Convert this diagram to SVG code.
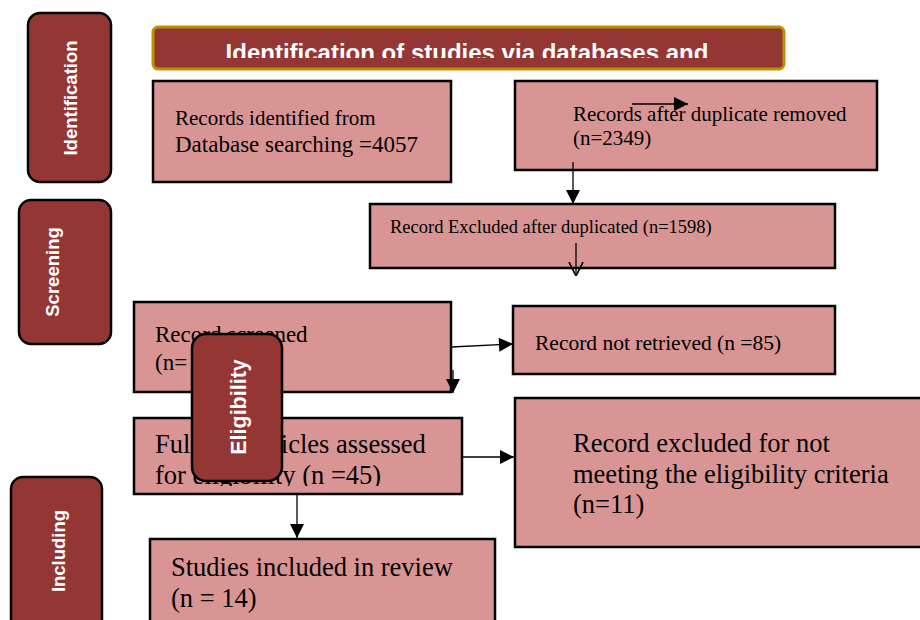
<svg xmlns="http://www.w3.org/2000/svg" width="920" height="620" viewBox="0 0 920 620">
<defs>
<style>
.box{fill:#D99594;stroke:#000;stroke-width:2.5}
.pill{fill:#943634;stroke:#000;stroke-width:2.5}
.t{font-family:"Liberation Serif","Times New Roman",serif;fill:#000}
.pt{font-family:"Liberation Sans",Arial,sans-serif;font-weight:bold;fill:#fff;font-size:18.5px}
.ln{stroke:#000;stroke-width:1.3;fill:none}
</style>
<marker id="ahb" viewBox="0 0 10 10" refX="10" refY="5" markerWidth="16" markerHeight="14" markerUnits="userSpaceOnUse" orient="auto"><path d="M0,0 L10,5 L0,10 z" fill="#000"/></marker>
<marker id="ao" viewBox="0 0 10 10" refX="10" refY="5" markerWidth="14" markerHeight="22" markerUnits="userSpaceOnUse" orient="auto"><path d="M0,0 L10,5 L0,10" fill="none" stroke="#000" stroke-width="1.2"/></marker>
<clipPath id="clipTitle"><rect x="150" y="20" width="640" height="38"/></clipPath>
<clipPath id="clipFull"><rect x="130" y="410" width="340" height="76"/></clipPath>
</defs>

<g id="title">
<rect x="153" y="27" width="631" height="42" rx="5" fill="#943634" stroke="#C09000" stroke-width="3"/>
<text x="467" y="61" text-anchor="middle" font-family="Liberation Sans,Arial,sans-serif" font-weight="bold" font-size="24" fill="#fff" clip-path="url(#clipTitle)">Identification of studies via databases and</text>
</g>

<g id="identified">
<rect class="box" x="153" y="81" width="298" height="101"/>
<text class="t" x="175" y="125" font-size="21">Records identified from</text>
<text class="t" x="175" y="152" font-size="23">Database searching =4057</text>
</g>

<g id="after-duplicates">
<rect class="box" x="515" y="81" width="362" height="89"/>
<text class="t" x="573" y="121" font-size="21">Records after duplicate removed</text>
<text class="t" x="573" y="145" font-size="21">(n=2349)</text>
</g>

<g id="excluded-duplicates">
<rect class="box" x="370" y="204" width="465" height="64"/>
<text class="t" x="390" y="233" font-size="18.5">Record Excluded after duplicated (n=1598)</text>
</g>

<g id="screened">
<rect class="box" x="134" y="302" width="317" height="90"/>
<text class="t" x="155" y="342" font-size="23">Record screened</text>
<text class="t" x="155" y="370" font-size="23">(n=</text>
</g>

<g id="not-retrieved">
<rect class="box" x="513" y="306" width="322" height="68"/>
<text class="t" x="535" y="350" font-size="21.5">Record not retrieved (n =85)</text>
</g>

<g id="full-text">
<rect class="box" x="134" y="418" width="328" height="76"/>
<g clip-path="url(#clipFull)">
<text class="t" x="155" y="453" font-size="26.5">Full-text articles assessed</text>
<text class="t" x="155" y="484" font-size="26.5">for eligibility (n =45)</text>
</g>
</g>

<g id="excluded-eligibility">
<rect class="box" x="515" y="398" width="410" height="149"/>
<text class="t" x="573" y="452" font-size="26.5">Record excluded for not</text>
<text class="t" x="573" y="483" font-size="26.5">meeting the eligibility criteria</text>
<text class="t" x="573" y="513" font-size="26.5">(n=11)</text>
</g>

<g id="included">
<rect class="box" x="150" y="539" width="345" height="90"/>
<text class="t" x="171" y="576" font-size="26.5">Studies included in review</text>
<text class="t" x="171" y="607" font-size="26.5">(n = 14)</text>
</g>

<g id="connectors">
<line class="ln" x1="632" y1="104" x2="688" y2="104" marker-end="url(#ahb)"/>
<line class="ln" x1="573" y1="162" x2="573" y2="204" marker-end="url(#ahb)"/>
<line class="ln" x1="576" y1="243" x2="576" y2="276" marker-end="url(#ao)"/>
<line class="ln" x1="451" y1="347" x2="513" y2="344" marker-end="url(#ahb)"/>
<line class="ln" x1="453" y1="370" x2="453" y2="393" marker-end="url(#ahb)"/>
<line class="ln" x1="462" y1="457" x2="514" y2="457" marker-end="url(#ahb)"/>
<line class="ln" x1="297" y1="494" x2="297" y2="538" marker-end="url(#ahb)"/>
</g>

<g id="stage-identification">
<rect class="pill" x="28" y="13" width="83" height="169" rx="12"/>
<text class="pt" transform="translate(77,98) rotate(-90)" text-anchor="middle">Identification</text>
</g>
<g id="stage-screening">
<rect class="pill" x="19" y="200" width="92" height="144" rx="12"/>
<text class="pt" transform="translate(59,272) rotate(-90)" text-anchor="middle">Screening</text>
</g>
<g id="stage-eligibility">
<rect class="pill" x="192" y="334" width="90" height="147" rx="14"/>
<text class="pt" transform="translate(246,407) rotate(-90)" text-anchor="middle" style="font-size:21.5px">Eligibility</text>
</g>
<g id="stage-including">
<rect class="pill" x="11" y="477" width="91" height="160" rx="12"/>
<text class="pt" transform="translate(65,551) rotate(-90)" text-anchor="middle">Including</text>
</g>
</svg>
